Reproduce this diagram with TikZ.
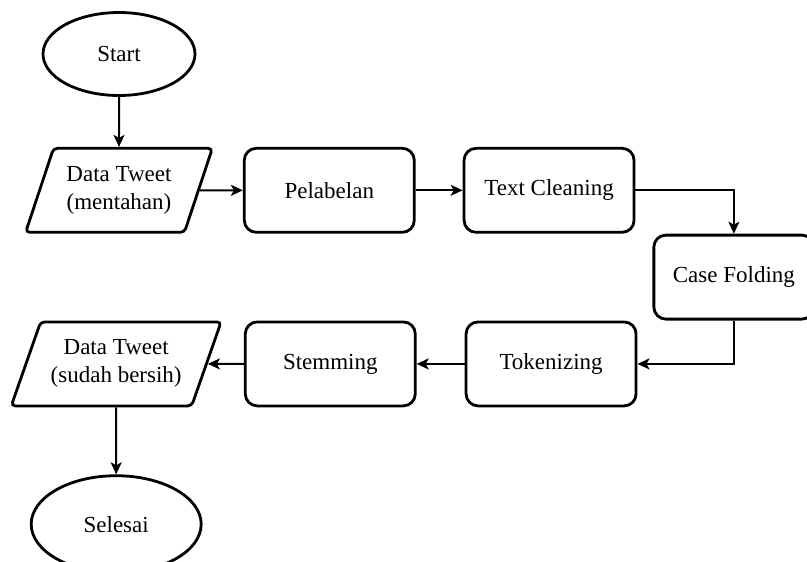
\documentclass[tikz,border=0pt]{standalone}
\usepackage{fontspec}
\setmainfont{Liberation Serif}
\usetikzlibrary{arrows.meta,positioning,shapes.geometric}

\begin{document}
\begin{tikzpicture}[
        x=1pt, y=-1pt,
        every node/.style={font=\fontsize{23}{28}\selectfont},
        term/.style={draw, ellipse, line width=2.8pt, inner sep=0pt},
        io/.style={draw, trapezium, trapezium stretches=true, rounded corners=4pt, line width=2.8pt, align=center, minimum height=84pt, inner sep=0pt},
        proc/.style={draw, rounded corners=12pt, line width=2.8pt, align=center, minimum width=170pt, minimum height=84pt},
        arr/.style={-{Stealth[length=12pt, width=11pt, inset=3pt]}, line width=2pt},
    ]
        \useasboundingbox (0,0) rectangle (807,562);
        \node[term, minimum width=152pt, minimum height=83pt] (start) at (119,54) {Start};
        \node[io, minimum width=187pt, trapezium left angle=65, trapezium right angle=115, below=50pt of start] (raw) {Data Tweet\\(mentahan)};
        \node[proc, right=43pt of raw] (label) {Pelabelan};
        \node[proc, right=47pt of label] (clean) {Text Cleaning};
        \node[proc, minimum width=160pt, below right=0pt and 17pt of clean] (fold) {Case Folding};
        \node[proc, below left=0pt and 15pt of fold] (token) {Tokenizing};
        \node[proc, left=48pt of token] (stem) {Stemming};
        \node[io, minimum width=210pt, trapezium left angle=62, trapezium right angle=118, left=36pt of stem] (done) {Data Tweet\\(sudah bersih)};
        \node[term, minimum width=170pt, minimum height=97pt, below=67pt of done] (finish) {Selesai};
        \draw[arr] (start) -- (raw);
        \draw[arr] (raw) -- (label);
        \draw[arr] (label) -- (clean);
        \draw[arr] (clean.east) -| (fold.north);
        \draw[arr] (fold.south) |- (token.east);
        \draw[arr] (token) -- (stem);
        \draw[arr] (stem) -- (done);
        \draw[arr] (done) -- (finish);
    \end{tikzpicture}
\end{document}
